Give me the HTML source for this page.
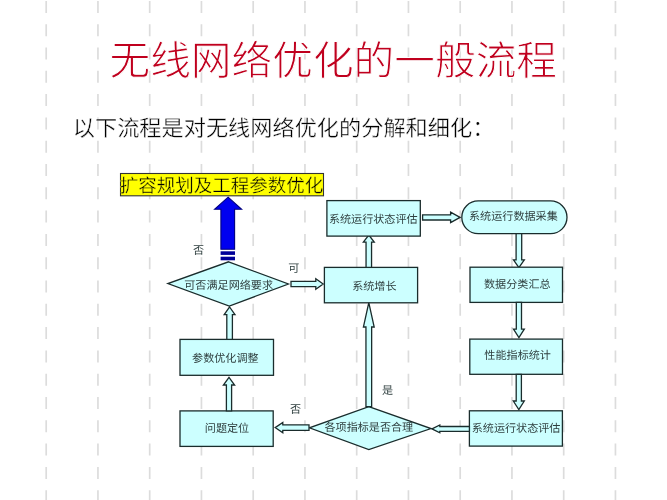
<!DOCTYPE html>
<html lang="zh-CN"><head><meta charset="utf-8">
<style>
html,body{margin:0;padding:0;background:#fff;width:667px;height:500px;overflow:hidden;}
svg{position:absolute;left:0;top:0;display:block;filter:blur(0.3px);}
text{font-family:"Liberation Serif",serif;text-rendering:geometricPrecision;}
</style></head><body>
<svg width="667" height="500" viewBox="0 0 667 500">
<g stroke="#dcdcdc" stroke-width="1.7" stroke-dasharray="12 11.3" stroke-dashoffset="-0.9">
<line x1="46.20" y1="0" x2="46.20" y2="500"/>
<line x1="97.95" y1="0" x2="97.95" y2="500"/>
<line x1="149.70" y1="0" x2="149.70" y2="500"/>
<line x1="201.45" y1="0" x2="201.45" y2="500"/>
<line x1="253.20" y1="0" x2="253.20" y2="500"/>
<line x1="304.95" y1="0" x2="304.95" y2="500"/>
<line x1="356.70" y1="0" x2="356.70" y2="500"/>
<line x1="408.45" y1="0" x2="408.45" y2="500"/>
<line x1="460.20" y1="0" x2="460.20" y2="500"/>
<line x1="511.95" y1="0" x2="511.95" y2="500"/>
<line x1="563.70" y1="0" x2="563.70" y2="500"/>
<line x1="615.45" y1="0" x2="615.45" y2="500"/>
</g>
<rect x="120.5" y="173.5" width="203.00" height="22.30" fill="#ffff00" stroke="#333" stroke-width="1.1"/>
<polygon points="228.10,197.20 241.60,209.30 234.60,209.30 234.60,249.20 220.90,249.20 220.90,209.30 214.60,209.30" fill="#0000f0" stroke="#000080" stroke-width="1.1" stroke-linejoin="miter"/>
<rect x="220.6" y="251.3" width="14.40" height="3.60" fill="#000099" stroke="none" stroke-width="0"/>
<rect x="220.6" y="256.7" width="14.40" height="3.60" fill="#000099" stroke="none" stroke-width="0"/>
<polygon points="228.60,261.80 288.40,284.00 229.30,306.00 167.90,283.60" fill="#ccffff" stroke="#1a2c2c" stroke-width="1.3" stroke-linejoin="miter"/>
<polygon points="323.20,284.00 315.80,278.80 315.80,281.40 291.00,281.40 291.00,286.60 315.80,286.60 315.80,289.20" fill="#ccffff" stroke="#1a2c2c" stroke-width="1.3" stroke-linejoin="miter"/>
<rect x="324.4" y="267.4" width="93.20" height="35.40" fill="#ccffff" stroke="#1a2c2c" stroke-width="1.3"/>
<polygon points="368.80,235.00 374.25,242.20 371.55,242.20 371.55,267.40 366.05,267.40 366.05,242.20 363.35,242.20" fill="#ccffff" stroke="#1a2c2c" stroke-width="1.3" stroke-linejoin="miter"/>
<rect x="326.9" y="200.6" width="93.40" height="35.50" fill="#ccffff" stroke="#1a2c2c" stroke-width="1.3"/>
<polygon points="460.00,217.40 450.60,212.20 450.60,214.80 422.60,214.80 422.60,220.00 450.60,220.00 450.60,222.60" fill="#ccffff" stroke="#1a2c2c" stroke-width="1.3" stroke-linejoin="miter"/>
<rect x="461.8" y="200.9" width="105.2" height="32.8" rx="16.4" ry="16.4" fill="#ccffff" stroke="#1a2c2c" stroke-width="1.3"/>
<polygon points="518.90,267.60 524.30,259.80 521.70,259.80 521.70,233.70 516.10,233.70 516.10,259.80 513.50,259.80" fill="#ccffff" stroke="#1a2c2c" stroke-width="1.3" stroke-linejoin="miter"/>
<rect x="470.0" y="267.2" width="92.50" height="35.20" fill="#ccffff" stroke="#1a2c2c" stroke-width="1.3"/>
<polygon points="518.90,337.60 524.30,329.20 521.50,329.20 521.50,302.40 516.30,302.40 516.30,329.20 513.50,329.20" fill="#ccffff" stroke="#1a2c2c" stroke-width="1.3" stroke-linejoin="miter"/>
<rect x="469.8" y="339.1" width="92.70" height="35.20" fill="#ccffff" stroke="#1a2c2c" stroke-width="1.3"/>
<polygon points="518.80,409.60 524.30,401.00 521.40,401.00 521.40,374.30 516.20,374.30 516.20,401.00 513.30,401.00" fill="#ccffff" stroke="#1a2c2c" stroke-width="1.3" stroke-linejoin="miter"/>
<rect x="469.4" y="410.8" width="93.00" height="35.30" fill="#ccffff" stroke="#1a2c2c" stroke-width="1.3"/>
<polygon points="432.00,428.90 439.80,425.00 439.80,426.50 469.40,426.50 469.40,431.30 439.80,431.30 439.80,432.80" fill="#ccffff" stroke="#1a2c2c" stroke-width="1.3" stroke-linejoin="miter"/>
<polygon points="368.80,406.60 431.00,428.60 368.80,449.60 309.40,427.80" fill="#ccffff" stroke="#1a2c2c" stroke-width="1.3" stroke-linejoin="miter"/>
<polygon points="275.20,427.60 282.80,422.50 282.80,424.90 309.00,424.90 309.00,430.30 282.80,430.30 282.80,432.70" fill="#ccffff" stroke="#1a2c2c" stroke-width="1.3" stroke-linejoin="miter"/>
<polygon points="368.80,302.60 374.20,327.00 371.65,327.00 371.65,406.60 365.95,406.60 365.95,327.00 363.40,327.00" fill="#ccffff" stroke="#1a2c2c" stroke-width="1.3" stroke-linejoin="miter"/>
<rect x="180.0" y="339.4" width="93.50" height="35.90" fill="#ccffff" stroke="#1a2c2c" stroke-width="1.3"/>
<polygon points="229.60,307.00 235.00,314.70 232.40,314.70 232.40,339.40 226.80,339.40 226.80,314.70 224.20,314.70" fill="#ccffff" stroke="#1a2c2c" stroke-width="1.3" stroke-linejoin="miter"/>
<rect x="180.0" y="410.9" width="93.20" height="35.50" fill="#ccffff" stroke="#1a2c2c" stroke-width="1.3"/>
<polygon points="229.00,377.40 234.60,385.00 231.60,385.00 231.60,410.90 226.40,410.90 226.40,385.00 223.40,385.00" fill="#ccffff" stroke="#1a2c2c" stroke-width="1.3" stroke-linejoin="miter"/>
<text x="109.45" y="75.0" font-size="40.7" fill="#c0001e" stroke="#fff" stroke-width="1.0">无线网络优化的一般流程</text>
<text x="72.8" y="135.5" font-size="22.2" fill="#000" stroke="#fff" stroke-width="0.4">以下流程是对无线网络优化的分解和细化：</text>
<text x="119.75" y="191.5" font-size="18.5" fill="#000" stroke="#ff0" stroke-width="0.35">扩容规划及工程参数优化</text>
<text x="192.95" y="254.4" font-size="11.1" fill="#2f3f3f">否</text>
<text x="184.25" y="288.9" font-size="11.1" fill="#2f3f3f">可否满足网络要求</text>
<text x="288.25" y="271.5" font-size="11.1" fill="#2f3f3f">可</text>
<text x="352.15" y="289.55" font-size="11.1" fill="#2f3f3f">系统增长</text>
<text x="328.9" y="222.85" font-size="11.1" fill="#2f3f3f">系统运行状态评估</text>
<text x="469.0" y="219.85" font-size="11.1" fill="#2f3f3f">系统运行数据采集</text>
<text x="484.0" y="287.85" font-size="11.1" fill="#2f3f3f">数据分类汇总</text>
<text x="484.35" y="359.3" font-size="11.1" fill="#2f3f3f">性能指标统计</text>
<text x="471.7" y="432.1" font-size="11.1" fill="#2f3f3f">系统运行状态评估</text>
<text x="324.45" y="430.75" font-size="11.1" fill="#2f3f3f">各项指标是否合理</text>
<text x="290.05" y="412.9" font-size="11.1" fill="#2f3f3f">否</text>
<text x="382.0" y="394.35" font-size="11.1" fill="#2f3f3f">是</text>
<text x="192.05" y="361.7" font-size="11.1" fill="#2f3f3f">参数优化调整</text>
<text x="204.8" y="431.9" font-size="11.1" fill="#2f3f3f">问题定位</text>
</svg>
</body></html>
